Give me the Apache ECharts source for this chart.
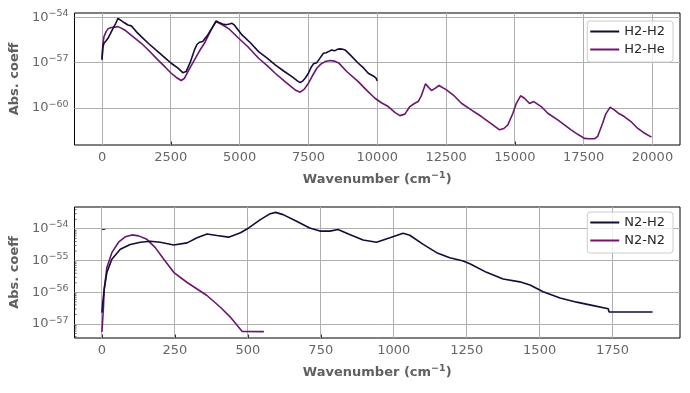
<!DOCTYPE html>
<html>
<head>
<meta charset="utf-8">
<script src="https://cdn.jsdelivr.net/npm/echarts@6/dist/echarts.min.js"></script>
<style>
html,body{margin:0;padding:0;background:#fff;}
#chart{width:690px;height:393px;}
</style>
</head>
<body>
<div id="chart"></div>
<script>
// ---- Data (y values are log10 of absorption coefficient) ----
const h2h2X = [0, 30, 72, 150, 217, 300, 400, 500, 580, 640, 700, 800, 942, 1065, 1150, 1245, 1426, 1700, 2029, 2300, 2514, 2750, 2935, 3056, 3200, 3359, 3450, 3540, 3660, 3841, 4000, 4144, 4250, 4385, 4500, 4627, 4725, 4800, 5087, 5400, 5688, 6000, 6293, 6600, 6899, 7100, 7199, 7300, 7380, 7500, 7600, 7681, 7804, 7900, 8043, 8150, 8225, 8346, 8450, 8550, 8649, 8750, 8830, 9000, 9312, 9500, 9674, 9855, 9950, 10000];
const h2h2Log = [-56.77, -56.0, -55.72, -55.55, -55.39, -55.1, -54.73, -54.4, -54.07, -54.15, -54.22, -54.35, -54.51, -54.57, -54.75, -54.95, -55.28, -55.75, -56.27, -56.7, -57.04, -57.35, -57.66, -57.59, -57.0, -56.16, -55.8, -55.65, -55.6, -55.17, -54.7, -54.24, -54.35, -54.44, -54.5, -54.45, -54.40, -54.5, -55.17, -55.7, -56.27, -56.7, -57.15, -57.55, -57.92, -58.2, -58.32, -58.2, -58.03, -57.7, -57.3, -57.08, -57.0, -56.75, -56.38, -56.35, -56.27, -56.16, -56.22, -56.12, -56.09, -56.12, -56.16, -56.45, -57.04, -57.35, -57.70, -57.88, -58.0, -58.2];

const h2heX = [0, 30, 72, 150, 217, 300, 400, 500, 580, 700, 822, 1100, 1427, 1700, 2029, 2300, 2514, 2700, 2877, 2998, 3150, 3359, 3550, 3721, 3963, 4144, 4250, 4385, 4627, 4964, 5300, 5688, 6000, 6293, 6650, 7018, 7199, 7350, 7500, 7650, 7804, 7950, 8105, 8286, 8450, 8587, 8900, 9312, 9600, 9917, 10150, 10399, 10650, 10822, 11003, 11185, 11350, 11486, 11600, 11754, 11850, 11971, 12100, 12246, 12514, 12800, 13058, 13400, 13783, 14100, 14446, 14600, 14746, 14928, 15050, 15207, 15350, 15533, 15688, 15957, 16196, 16558, 17043, 17300, 17525, 17700, 17888, 18007, 18188, 18300, 18456, 18600, 18793, 18975, 19217, 19457, 19700, 19964];
const h2heLog = [-56.82, -55.8, -55.28, -54.95, -54.77, -54.7, -54.66, -54.65, -54.62, -54.72, -54.84, -55.25, -55.72, -56.2, -56.82, -57.3, -57.70, -57.98, -58.18, -58.03, -57.5, -56.82, -56.2, -55.72, -54.84, -54.29, -54.38, -54.51, -54.79, -55.39, -55.95, -56.71, -57.2, -57.70, -58.25, -58.80, -58.95, -58.75, -58.36, -57.85, -57.37, -57.1, -56.93, -56.86, -56.9, -57.0, -57.6, -58.25, -58.8, -59.35, -59.65, -59.9, -60.3, -60.5, -60.4, -59.9, -59.7, -59.57, -59.2, -58.40, -58.6, -58.84, -58.7, -58.51, -58.80, -59.2, -59.68, -60.1, -60.56, -60.98, -61.44, -61.35, -61.11, -60.34, -59.7, -59.19, -59.35, -59.70, -59.57, -59.90, -60.34, -60.78, -61.44, -61.75, -62.0, -62.03, -62.03, -61.88, -61.0, -60.4, -59.95, -60.1, -60.38, -60.56, -60.89, -61.33, -61.65, -61.92];

const n2h2X = [0, 3, 8, 17, 34, 63, 97, 132, 166, 200, 246, 292, 326, 360, 394, 434, 475, 503, 543, 577, 595, 621, 667, 712, 747, 781, 809, 849, 895, 941, 987, 1032, 1055, 1101, 1147, 1192, 1238, 1261, 1318, 1375, 1432, 1467, 1512, 1570, 1627, 1684, 1735, 1738, 1887];
const n2h2Log = [-56.64, -56.31, -55.89, -55.37, -54.96, -54.64, -54.49, -54.42, -54.39, -54.42, -54.51, -54.44, -54.28, -54.16, -54.21, -54.26, -54.12, -53.97, -53.71, -53.52, -53.48, -53.55, -53.76, -53.97, -54.07, -54.07, -54.02, -54.18, -54.35, -54.42, -54.28, -54.14, -54.20, -54.49, -54.75, -54.91, -55.01, -55.10, -55.37, -55.58, -55.67, -55.77, -55.98, -56.18, -56.31, -56.42, -56.52, -56.62, -56.62];

const n2n2X = [0, 5, 8, 17, 34, 57, 80, 103, 126, 154, 183, 212, 246, 292, 360, 406, 440, 480, 555];
const n2n2Log = [-57.25, -56.52, -55.89, -55.22, -54.75, -54.42, -54.25, -54.19, -54.22, -54.33, -54.59, -54.96, -55.37, -55.69, -56.1, -56.47, -56.78, -57.23, -57.24];

// ---- Ticks ----
const topXTicks = [0, 2500, 5000, 7500, 10000, 12500, 15000, 17500, 20000];
const topYTicks = [-60, -57, -54];
const botXTicks = [0, 250, 500, 750, 1000, 1250, 1500, 1750];
const botYTicks = [-57, -56, -55, -54];
const botYMinorTicks = [];
[-58, -57, -56, -55, -54].forEach(function (n) {
  [2, 3, 4, 5, 6, 7, 8, 9].forEach(function (k) { botYMinorTicks.push(n + Math.log10(k)); });
});

const topXRange = [-1000, 21000];
const topYRange = [-62.44, -53.72];
const botXRange = [-94, 1981];
const botYRange = [-57.44, -53.31];

const C1 = '#160b39';
const C2 = '#6a176e';
const FONT = 'DejaVu Sans';
const TICKC = '#666';
const TITLEC = '#606060';

function zip(xs, ys) { return xs.map(function (x, i) { return [x, ys[i]]; }); }
function supLabel(v) { return '10{sup|\u2212' + Math.round(-v) + '}'; }
function plainLabel(v) { return String(Math.round(v)); }

const supRich = { sup: { fontSize: 9.5, fontFamily: FONT, color: TICKC, padding: [0, 0, 8, 0] } };

function xAxisCfg(gi, range, ticks) {
  return {
    type: 'value', gridIndex: gi, min: range[0], max: range[1],
    name: 'Wavenumber (cm{sup|\u22121})', nameLocation: 'middle', nameGap: 26,
    nameTextStyle: { fontFamily: FONT, fontSize: 13, fontWeight: 'bold', color: TITLEC,
      rich: { sup: { fontSize: 9.5, fontFamily: FONT, color: TITLEC, padding: [0, 0, 8, 0] } } },
    axisLine: { show: false },
    axisTick: { show: true, inside: true, length: 3.5, customValues: ticks, lineStyle: { color: '#333', width: 1 } },
    axisLabel: { customValues: ticks, margin: 6, fontFamily: FONT, fontSize: 13, color: TICKC, formatter: plainLabel },
    splitLine: { show: false }
  };
}
function yAxisCfg(gi, range, ticks) {
  return {
    type: 'value', gridIndex: gi, min: range[0], max: range[1],
    name: 'Abs. coeff', nameLocation: 'middle', nameGap: 50, nameRotate: 90,
    nameTextStyle: { fontFamily: FONT, fontSize: 13, fontWeight: 'bold', color: TITLEC },
    axisLine: { show: false },
    axisTick: { show: true, inside: true, length: 3.5, customValues: ticks, lineStyle: { color: '#333', width: 1 } },
    axisLabel: { customValues: ticks, margin: 6, fontFamily: FONT, fontSize: 13, color: TICKC,
      formatter: supLabel, rich: supRich },
    splitLine: { show: false }
  };
}
function legendCfg(names, top) {
  return {
    data: names, orient: 'vertical', right: 17, top: top, z: 10,
    icon: 'rect', itemWidth: 29, itemHeight: 2, itemGap: 5, itemTextGap: 12,
    padding: [4, 8, 6, 3],
    backgroundColor: 'rgba(255,255,255,0.8)', borderColor: '#cccccc', borderWidth: 1, borderRadius: 3,
    textStyle: { fontFamily: FONT, fontSize: 13, color: '#262626' }
  };
}
function lineSeries(name, xi, yi, data, color) {
  return {
    type: 'line', name: name, xAxisIndex: xi, yAxisIndex: yi, data: data, z: 5,
    showSymbol: false, symbol: 'none', smooth: false, clip: true,
    lineStyle: { color: color, width: 1.6 }, itemStyle: { color: color }
  };
}

const chart = echarts.init(document.getElementById('chart'), null, { renderer: 'canvas' });
chart.setOption({
  animation: false,
  backgroundColor: '#fff',
  grid: [
    { left: 74, top: 13, width: 606, height: 132, show: true, borderColor: '#000', borderWidth: 1 },
    { left: 74, top: 207, width: 606, height: 131, show: true, borderColor: '#000', borderWidth: 1 }
  ],
  xAxis: [xAxisCfg(0, topXRange, topXTicks), xAxisCfg(1, botXRange, botXTicks)],
  yAxis: [yAxisCfg(0, topYRange, topYTicks), yAxisCfg(1, botYRange, botYTicks)],
  legend: [legendCfg(['H2-H2', 'H2-He'], 21), legendCfg(['N2-H2', 'N2-N2'], 212)],
  series: [
    lineSeries('H2-He', 0, 0, zip(h2heX, h2heLog), C2),
    lineSeries('H2-H2', 0, 0, zip(h2h2X, h2h2Log), C1),
    lineSeries('N2-N2', 1, 1, zip(n2n2X, n2n2Log), C2),
    lineSeries('N2-H2', 1, 1, zip(n2h2X, n2h2Log), C1),
    {
      type: 'custom', xAxisIndex: 1, yAxisIndex: 1, silent: true, clip: false, z: 6,
      data: botYMinorTicks.filter(function (v) { return v > botYRange[0] && v < botYRange[1]; })
        .map(function (v) { return [botXRange[0], v]; }),
      renderItem: function (params, api) {
        const p = api.coord([api.value(0), api.value(1)]);
        return { type: 'line', shape: { x1: p[0], y1: p[1], x2: p[0] + 2, y2: p[1] },
          style: { stroke: '#333', lineWidth: 0.8 } };
      }
    }
  ]
});

// gridlines: pixel positions obtained from the chart's own axis scales
try {
  const gfx = [];
  function crisp(v) { return Math.round(v - 0.5) + 0.5; }
  function addGrid(gi, xTicks, yTicks, xRange, yRange) {
    xTicks.forEach(function (v) {
      const a = chart.convertToPixel({ xAxisIndex: gi, yAxisIndex: gi }, [v, yRange[0]]);
      const b = chart.convertToPixel({ xAxisIndex: gi, yAxisIndex: gi }, [v, yRange[1]]);
      const x = crisp(a[0]);
      gfx.push({ type: 'line', silent: true, z: 1,
        shape: { x1: x, y1: a[1], x2: x, y2: b[1] }, style: { stroke: '#b0b0b0', lineWidth: 1 } });
    });
    yTicks.forEach(function (v) {
      const a = chart.convertToPixel({ xAxisIndex: gi, yAxisIndex: gi }, [xRange[0], v]);
      const b = chart.convertToPixel({ xAxisIndex: gi, yAxisIndex: gi }, [xRange[1], v]);
      const y = crisp(a[1]);
      gfx.push({ type: 'line', silent: true, z: 1,
        shape: { x1: a[0], y1: y, x2: b[0], y2: y }, style: { stroke: '#b0b0b0', lineWidth: 1 } });
    });
  }
  addGrid(0, topXTicks, topYTicks, topXRange, topYRange);
  addGrid(1, botXTicks, botYTicks, botXRange, botYRange);
  chart.setOption({ graphic: { elements: gfx } });
} catch (e) { console.error(e); }
</script>
</body>
</html>
